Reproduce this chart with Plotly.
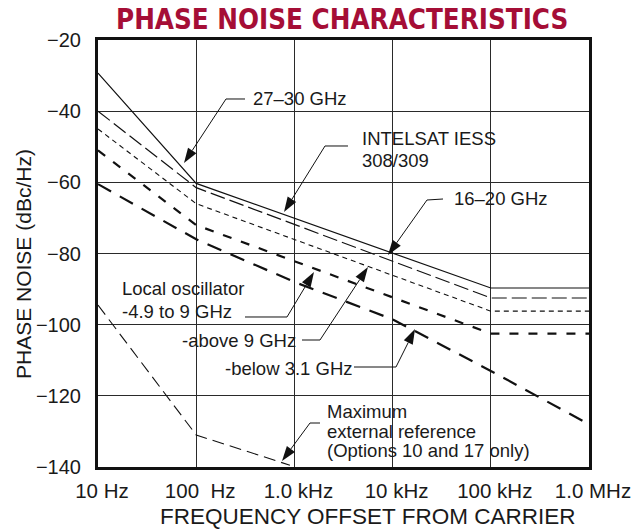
import plotly.graph_objects as go

# ---------------- data ----------------
freq_27_30 = [10, 100, 1e5, 1e6]
pn_27_30 = [-29.3, -60.3, -89.7, -89.7]

freq_intelsat = [10, 100, 1e5, 1e6]
pn_intelsat = [-40.0, -61.5, -92.5, -92.5]

freq_16_20 = [10, 100, 1e5, 1e6]
pn_16_20 = [-45.0, -66.0, -96.2, -96.2]

freq_lo_above9 = [10, 100, 1e5, 1e6]
pn_lo_above9 = [-51.0, -72.0, -102.5, -102.5]

freq_lo_below31 = [10, 100, 1e3, 1e4, 1e5, 1e6]
pn_lo_below31 = [-60.5, -76.0, -88.0, -98.5, -113.0, -128.0]

freq_ext_ref = [10, 100, 900]
pn_ext_ref = [-94.5, -131.0, -139.5]

x_tickvals = [10, 100, 1e3, 1e4, 1e5, 1e6]
x_ticktext = ["10 Hz", "100\u00a0 Hz", "1.0 kHz", "10 kHz", "100 kHz", "1.0 MHz"]
y_tickvals = [-20, -40, -60, -80, -100, -120, -140]

# ---------------- layout geometry (pixels) ----------------
W, H = 631, 529
L, R, T, B = 98, 589, 40, 467
FONT = "Liberation Sans, Arial, sans-serif"


def xp(px):
    return (px - L) / (R - L)


def yp(py):
    return 1 - (py - T) / (B - T)


fig = go.Figure()

lines = [
    (freq_27_30, pn_27_30, "27\u201330 GHz", dict(color="#111", width=1.2, dash="solid")),
    (freq_intelsat, pn_intelsat, "INTELSAT IESS 308/309", dict(color="#111", width=1.2, dash="15px,5px")),
    (freq_16_20, pn_16_20, "16\u201320 GHz", dict(color="#111", width=1.1, dash="5px,4px")),
    (freq_lo_above9, pn_lo_above9, "LO above 9 GHz", dict(color="#111", width=2.2, dash="9px,10px")),
    (freq_lo_below31, pn_lo_below31, "LO below 3.1 GHz", dict(color="#111", width=2.2, dash="15px,10px")),
    (freq_ext_ref, pn_ext_ref, "Max external reference", dict(color="#111", width=1.1, dash="12px,6px")),
]
for fx, fy, nm, ln in lines:
    fig.add_trace(go.Scatter(x=fx, y=fy, mode="lines", name=nm, line=ln,
                             showlegend=False, hoverinfo="skip"))

shapes = []

# gaps in the grid behind labels
gaps = [
    (286, 74, 302, 126),    # 1 kHz vertical behind 27-30 GHz
    (240, 105, 352, 119),   # -40 horizontal
    (384, 103, 400, 172),   # 10 kHz vertical behind INTELSAT
    (437, 176, 549, 190),   # -60 horizontal behind 16-20
    (482, 150, 498, 226),   # 100 kHz vertical
    (188, 272, 204, 390),   # 100 Hz vertical
    (286, 333, 302, 395),   # 1 kHz vertical lower
    (180, 318, 212, 332),   # -100 horizontal
    (384, 405, 400, 462),   # 10 kHz vertical behind max ext ref
]
for x0, y0, x1, y1 in gaps:
    shapes.append(dict(type="rect", xref="paper", yref="paper",
                       x0=xp(x0), x1=xp(x1), y0=yp(y1), y1=yp(y0),
                       fillcolor="white", line=dict(width=0), layer="between"))

# leader lines with arrowheads: polyline points in pixels, last point = tip
leaders = [
    [(245, 99), (226, 99), (184, 163)],
    [(348, 146), (325, 146), (284, 212)],
    [(443, 199), (427, 200), (388, 255)],
    [(245, 317), (287, 317), (314, 272)],
    [(302, 340), (320, 340), (368, 267)],
    [(354, 367), (396, 367), (415, 329)],
    [(320, 423), (310, 423), (282, 461)],
]
AL, AW = 15, 5.0
for pts in leaders:
    (bx, by), (tx, ty) = pts[-2], pts[-1]
    dx, dy = tx - bx, ty - by
    n = (dx * dx + dy * dy) ** 0.5
    ux, uy = dx / n, dy / n
    cx, cy = tx - AL * ux, ty - AL * uy
    c1 = (cx - AW * uy, cy + AW * ux)
    c2 = (cx + AW * uy, cy - AW * ux)
    path = "M " + " L ".join(f"{xp(px):.5f},{yp(py):.5f}" for px, py in pts[:-1] + [(cx, cy)])
    shapes.append(dict(type="path", xref="paper", yref="paper", path=path,
                       line=dict(color="#111", width=1), fillcolor="rgba(0,0,0,0)", layer="above"))
    head = (f"M {xp(tx):.5f},{yp(ty):.5f} L {xp(c1[0]):.5f},{yp(c1[1]):.5f} "
            f"L {xp(c2[0]):.5f},{yp(c2[1]):.5f} Z")
    shapes.append(dict(type="path", xref="paper", yref="paper", path=head,
                       line=dict(width=0), fillcolor="#111", layer="above"))

# labels: text, left x px, center y px
labels = [
    ("27\u201330 GHz", 251, 98),
    ("INTELSAT IESS", 360, 138),
    ("308/309", 360, 160),
    ("16\u201320 GHz", 452, 198),
    ("Local oscillator", 120, 288),
    ("-4.9 to 9 GHz", 120, 311),
    ("-above 9 GHz", 180, 340),
    ("-below 3.1 GHz", 223, 368),
    ("Maximum", 325, 411),
    ("external reference", 325, 431),
    ("(Options 10 and 17 only)", 325, 450),
]
annotations = []
for txt, lx, cy in labels:
    annotations.append(dict(text=txt, xref="paper", yref="paper", x=xp(lx), y=yp(cy),
                            xanchor="left", yanchor="middle", showarrow=False,
                            font=dict(family=FONT, size=18.5, color="#1a1a1a")))

annotations.append(dict(text="<b>PHASE NOISE CHARACTERISTICS</b>", xref="paper", yref="paper",
                        x=xp(342), y=yp(19), xanchor="center", yanchor="middle", showarrow=False,
                        font=dict(family="DejaVu Sans Condensed, Liberation Sans, sans-serif",
                                  size=27.5, color="#A50E36")))
annotations.append(dict(text="FREQUENCY OFFSET FROM CARRIER", xref="paper", yref="paper",
                        x=xp(367), y=yp(516), xanchor="center", yanchor="middle", showarrow=False,
                        font=dict(family=FONT, size=22.5, color="#1a1a1a")))
annotations.append(dict(text="PHASE NOISE (dBc/Hz)", xref="paper", yref="paper",
                        x=xp(23), y=yp(264), xanchor="center", yanchor="middle", showarrow=False,
                        textangle=-90, font=dict(family=FONT, size=21, color="#1a1a1a")))

fig.update_layout(
    width=W, height=H,
    margin=dict(l=L, r=W - R, t=T, b=H - B, pad=0, autoexpand=False),
    paper_bgcolor="white", plot_bgcolor="white",
    shapes=shapes, annotations=annotations,
    font=dict(family=FONT, color="#1a1a1a"),
)
fig.update_xaxes(type="log", range=[1, 6], tickvals=x_tickvals, ticktext=x_ticktext,
                 showgrid=True, gridcolor="#2a2a2a", gridwidth=1.3,
                 showline=True, linecolor="#111", linewidth=3, mirror=True,
                 ticks="", ticklabelshift=4, ticklabelstandoff=3, ticklabeloverflow="allow",
                 automargin=False,
                 tickfont=dict(family=FONT, size=20.5, color="#1a1a1a"), zeroline=False)
fig.update_yaxes(range=[-140, -20], tickvals=y_tickvals,
                 showgrid=True, gridcolor="#2a2a2a", gridwidth=1.3,
                 showline=True, linecolor="#111", linewidth=3, mirror=True,
                 ticks="", ticklabelstandoff=10, automargin=False,
                 tickfont=dict(family=FONT, size=20, color="#1a1a1a"), zeroline=False)

fig.write_html("out.html", config={"displayModeBar": False},
               post_script="document.body.style.margin='0px';")
